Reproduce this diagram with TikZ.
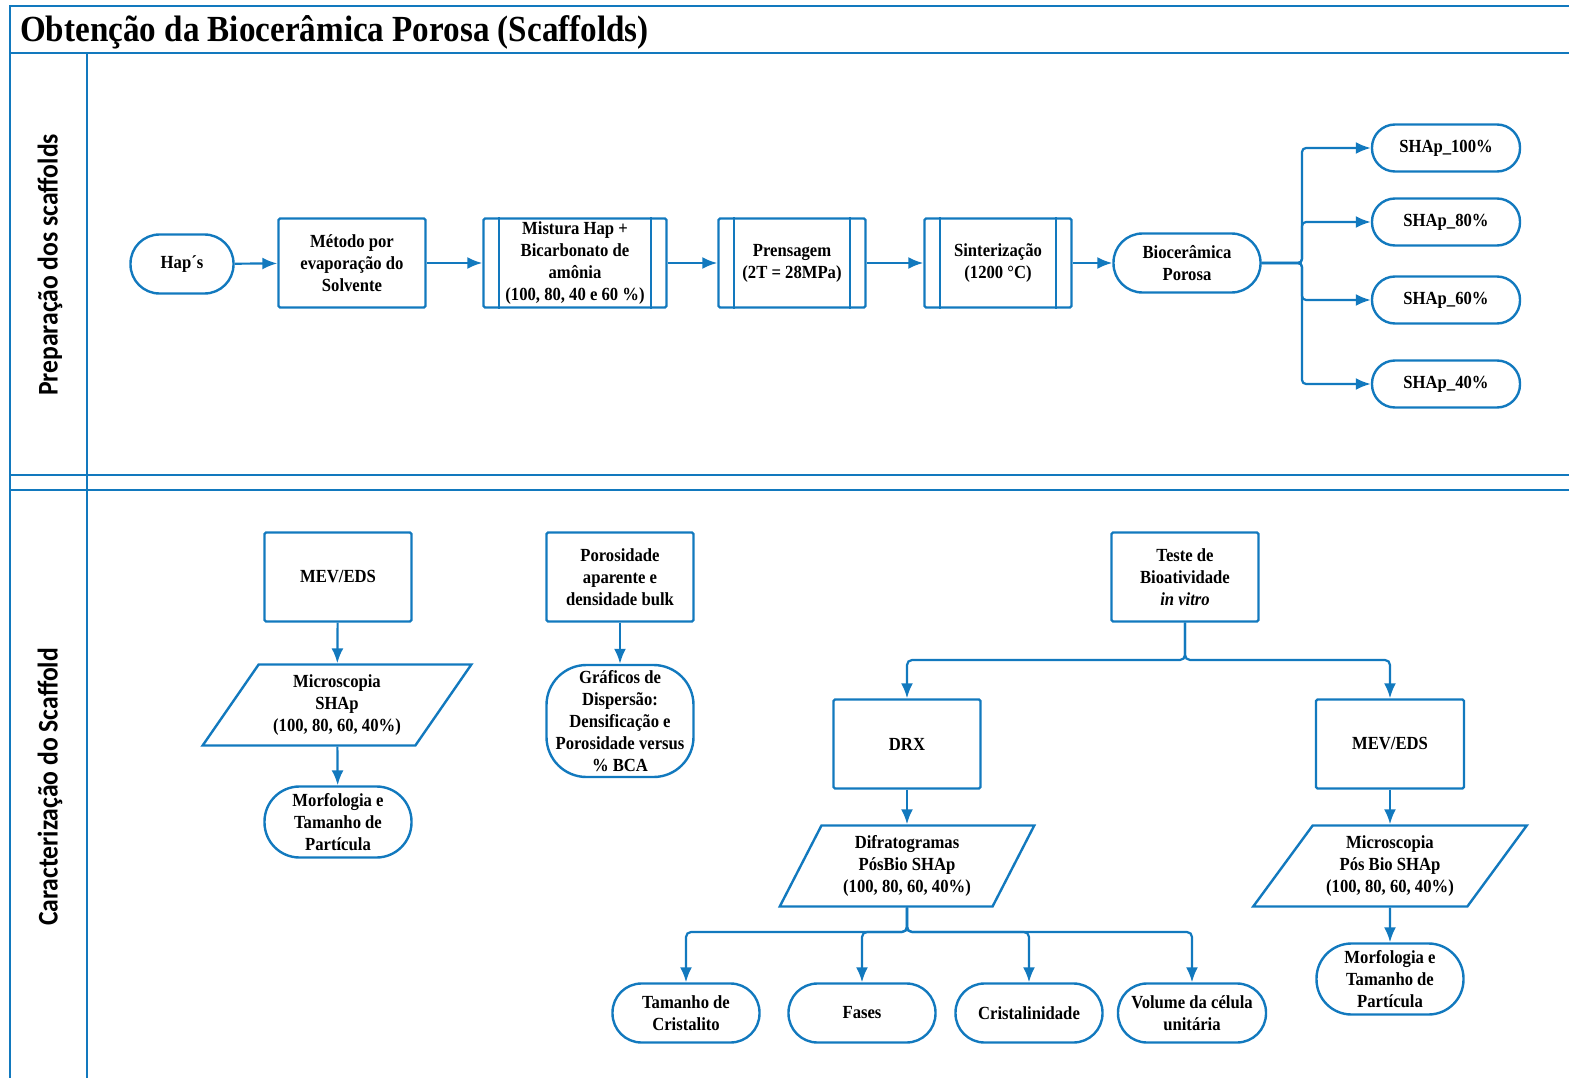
\documentclass[tikz,border=0pt]{standalone}
\usepackage{fontspec}
\setmainfont{Liberation Serif}[FakeStretch=0.9]
\newfontfamily\faixafont{Carlito}[FakeStretch=0.9]
\usetikzlibrary{shapes.geometric,arrows.meta}
\definecolor{azul}{RGB}{18,121,190}
\tikzset{
  caixa/.style={draw=azul, line width=2.4pt, align=center, inner sep=2pt,
    font=\fontsize{18.5}{22}\selectfont\bfseries},
  proc/.style={caixa, rectangle, rounded corners=1.5, minimum width=147, minimum height=89},
  term/.style={caixa, rectangle, rounded corners=#1, minimum width=147, minimum height=2*#1+1},
  term/.default=29,
  para/.style={caixa, trapezium, trapezium stretches=true, minimum height=81},
  seta/.style={draw=azul, line width=2.2pt, -{Latex[length=15pt,width=12pt]}},
  moldura/.style={draw=azul, line width=2.6pt},
  faixa/.style={rotate=90, font=\faixafont\fontsize{28.5}{30}\selectfont\bfseries},
}
\begin{document}
\begin{tikzpicture}[x=1pt,y=-1pt]
    \useasboundingbox (0,0) rectangle (1569,1078);
    % moldura e faixas
    \draw[moldura] (1569,6) -- (10,6) -- (10,1078);
    \draw[moldura] (10,53) -- (1569,53);
    \draw[moldura] (10,475) -- (1569,475);
    \draw[moldura] (10,490) -- (1569,490);
    \draw[moldura] (87,53) -- (87,1078);
    \node[anchor=base west, inner sep=0, font=\fontsize{36.8}{40}\selectfont\bfseries] (tit) at (20,42)
        {Obtenção da Biocerâmica Porosa (Scaffolds)};
    \node[faixa] (fx1) at (50,265) {Preparação dos scaffolds};
    \node[faixa] (fx2) at (50,787) {Caracterização do Scaffold};

    % preparacao
    \node[term, minimum width=103] (hap) at (182,264) {Hap´s};
    \node[proc] (met) at (352,263) {Método por\\evaporação do\\Solvente};
    \node[proc, minimum width=183, inner sep=1pt] (mist) at (575,263)
        {Mistura Hap +\\Bicarbonato de\\amônia\\(100, 80, 40 e 60 \%)};
    \node[proc] (prens) at (792,263) {Prensagem\\(2T = 28MPa)};
    \node[proc] (sint) at (998,263) {Sinterização\\(1200 °C)};
    \node[term] (bio) at (1187,263) {Biocerâmica\\Porosa};
    \foreach \n in {mist,prens,sint} {
        \draw[draw=azul, line width=2pt] ([xshift=17]\n.north west) -- ([xshift=17]\n.south west);
        \draw[draw=azul, line width=2pt] ([xshift=-17]\n.north east) -- ([xshift=-17]\n.south east);
    }
    \draw[seta] (hap) -- (met);
    \draw[seta] (met) -- (mist);
    \draw[seta] (mist) -- (prens);
    \draw[seta] (prens) -- (sint);
    \draw[seta] (sint) -- (bio);
    % saidas
    \coordinate (jb) at (1302,263);
    \foreach \p/\y in {100/148, 80/222, 60/300, 40/384} {
        \node[term=23, minimum width=148] (s\p) at (1446,\y) {SHAp\_\p\%};
        \draw[seta, rounded corners=4] (bio.east) -- (jb) |- (s\p.west);
    }

    % caracterizacao
    \node[proc] (mev1) at (338,577) {MEV/EDS};
    \node[para, trapezium left angle=54, trapezium right angle=126, minimum width=269] (mic1)
        at (337,705) {Microscopia\\SHAp\\(100, 80, 60, 40\%)};
    \node[term=35] (mor1) at (338,822) {Morfologia e\\Tamanho de\\Partícula};
    \draw[seta] (mev1) -- (mic1);
    \draw[seta] (mic1) -- (mor1);

    \node[proc] (por) at (620,577) {Porosidade\\aparente e\\densidade bulk};
    \node[term=40, minimum height=112, inner sep=0] (graf) at (620,721)
        {Gráficos de\\Dispersão:\\Densificação e\\Porosidade versus\\\% BCA};
    \draw[seta] (por) -- (graf);

    \node[proc] (teste) at (1185,577) {Teste de\\Bioatividade\\\textit{in vitro}};
    \node[proc] (drx) at (907,744) {DRX};
    \node[proc, minimum width=148] (mev2) at (1390,744) {MEV/EDS};
    \coordinate (jt) at (1185,660);
    \draw[seta, rounded corners=5] (teste.south) -- (jt) -| (drx.north);
    \draw[seta, rounded corners=5] (teste.south) -- (jt) -| (mev2.north);

    \node[para, trapezium left angle=63.7, trapezium right angle=116.3, minimum width=255] (dif)
        at (907,866) {Difratogramas\\PósBio SHAp\\(100, 80, 60, 40\%)};
    \node[para, trapezium left angle=52, trapezium right angle=128, minimum width=274] (mic2)
        at (1390,866) {Microscopia\\Pós Bio SHAp\\(100, 80, 60, 40\%)};
    \node[term=35] (mor2) at (1390,979) {Morfologia e\\Tamanho de\\Partícula};
    \draw[seta] (drx) -- (dif);
    \draw[seta] (mev2) -- (mic2);
    \draw[seta] (mic2) -- (mor2);

    \node[term] (tam) at (686,1013) {Tamanho de\\Cristalito};
    \node[term] (fas) at (862,1013) {Fases};
    \node[term] (cri) at (1029,1013) {Cristalinidade};
    \node[term, minimum width=148] (vol) at (1192,1013) {Volume da célula\\unitária};
    \coordinate (jd) at (907,932);
    \foreach \n in {tam,fas,cri,vol} {
        \draw[seta, rounded corners=5] (dif.south) -- (jd) -| (\n.north);
    }
\end{tikzpicture}
\end{document}
